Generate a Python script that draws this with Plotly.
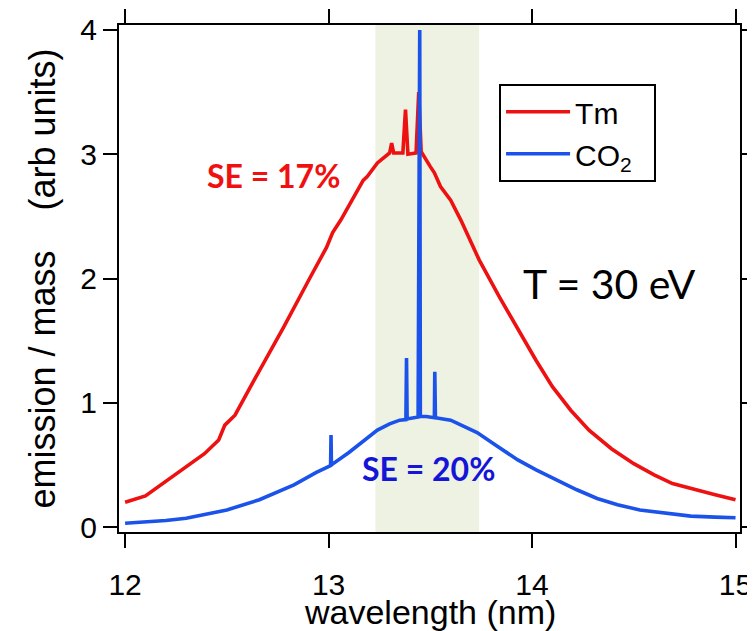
import plotly.graph_objects as go

# ---- data ----
tm_wavelength = [12.00, 12.10, 12.39, 12.46, 12.49, 12.54, 12.63, 12.78, 12.91, 12.99,
                 13.02, 13.06, 13.17, 13.19, 13.24, 13.30, 13.31, 13.32, 13.365, 13.378,
                 13.39, 13.43, 13.443, 13.455, 13.50, 13.52, 13.55, 13.60, 13.65, 13.74,
                 13.84, 13.94, 14.02, 14.10, 14.19, 14.28, 14.39, 14.50, 14.60, 14.69,
                 14.80, 14.90, 15.00]
tm_emission = [0.20, 0.25, 0.59, 0.70, 0.82, 0.90, 1.17, 1.61, 2.01, 2.25,
               2.37, 2.47, 2.79, 2.82, 2.93, 3.01, 3.09, 3.01, 3.01, 3.36,
               3.00, 3.01, 3.50, 3.02, 2.90, 2.85, 2.74, 2.63, 2.47, 2.15,
               1.85, 1.56, 1.34, 1.13, 0.94, 0.78, 0.63, 0.51, 0.42, 0.35,
               0.30, 0.26, 0.22]

co2_wavelength = [12.00, 12.10, 12.20, 12.30, 12.39, 12.50, 12.66, 12.75, 12.83, 12.94,
                  13.010, 13.012, 13.014, 13.10, 13.17, 13.24, 13.30, 13.35, 13.380,
                  13.383, 13.386, 13.44, 13.448, 13.451, 13.48, 13.52, 13.522, 13.525,
                  13.60, 13.73, 13.82, 13.93, 14.02, 14.12, 14.22, 14.32, 14.42, 14.53,
                  14.65, 14.78, 14.90, 15.00]
co2_emission = [0.030, 0.040, 0.052, 0.070, 0.097, 0.137, 0.22, 0.28, 0.34, 0.44,
                0.495, 0.74, 0.50, 0.60, 0.69, 0.78, 0.83, 0.86, 0.865,
                1.36, 0.87, 0.885, 4.00, 0.89, 0.89, 0.88, 1.25, 0.88,
                0.86, 0.76, 0.66, 0.54, 0.46, 0.38, 0.30, 0.23, 0.18, 0.137,
                0.110, 0.088, 0.080, 0.075]

series_names = ["Tm", "CO<sub>2</sub>"]
band = [13.23, 13.74]
x_ticks = [12, 13, 14, 15]
y_ticks = [0, 1, 2, 3, 4]

RED = "#EE1111"
BLUE = "#1B52EA"
AX_FONT = "Liberation Sans, Arial, Helvetica, sans-serif"
ANN_FONT = "Lato, Open Sans, sans-serif"
PAD = "\u00a0\u00a0"

fig = go.Figure()
fig.add_trace(go.Scatter(x=tm_wavelength, y=tm_emission, mode="lines",
                         name=series_names[0] + PAD, line=dict(color=RED, width=3.6)))
fig.add_trace(go.Scatter(x=co2_wavelength, y=co2_emission, mode="lines",
                         name=series_names[1] + PAD, line=dict(color=BLUE, width=3.6)))

fig.add_shape(type="rect", xref="x", yref="paper", x0=band[0], x1=band[1], y0=0, y1=1,
              fillcolor="#EEF2E2", line=dict(width=0), layer="below")

fig.add_annotation(x=12.73, y=2.83, text="<b>SE = 17%</b>", showarrow=False,
                   font=dict(family=ANN_FONT, size=32, color="#F01010"))
fig.add_annotation(x=13.49, y=0.47, text="<b>SE = 20%</b>", showarrow=False,
                   font=dict(family=ANN_FONT, size=32, color="#1515D8"))
fig.add_annotation(x=14.38, y=1.96, text="T = 30 eV", showarrow=False,
                   font=dict(family=ANN_FONT, size=41, color="black"))
# x-axis title
fig.add_annotation(x=0.5, y=-0.158, xref="paper", yref="paper", yanchor="middle",
                   text="wavelength (nm)", showarrow=False,
                   font=dict(family=AX_FONT, size=34, color="black"))

axis_common = dict(showline=True, linecolor="black", linewidth=2, mirror="ticks",
                   ticks="outside", ticklen=14, tickwidth=2, tickcolor="black",
                   showgrid=False, zeroline=False, automargin=False,
                   tickfont=dict(family=AX_FONT, size=30, color="black"))

fig.update_xaxes(range=[11.97, 15.022], tickvals=x_ticks,
                 ticktext=[str(v) for v in x_ticks], ticklabelstandoff=11,
                 **axis_common)
fig.update_yaxes(range=[-0.04, 4.04], tickvals=y_ticks,
                 ticktext=[str(v) for v in y_ticks],
                 title=dict(text="emission / mass\u00a0\u00a0\u00a0\u00a0(arb units)", standoff=14,
                            font=dict(family=AX_FONT, size=36, color="black")),
                 **axis_common)

fig.update_layout(
    width=755, height=631,
    margin=dict(l=111, r=23, t=17, b=107, pad=0),
    plot_bgcolor="white", paper_bgcolor="white",
    legend=dict(x=0.612, y=0.884, xanchor="left", yanchor="top",
                bordercolor="black", borderwidth=2, bgcolor="white",
                font=dict(family=AX_FONT, size=30, color="black"),
                itemwidth=64, tracegroupgap=0),
)

fig.write_html("out.html")
